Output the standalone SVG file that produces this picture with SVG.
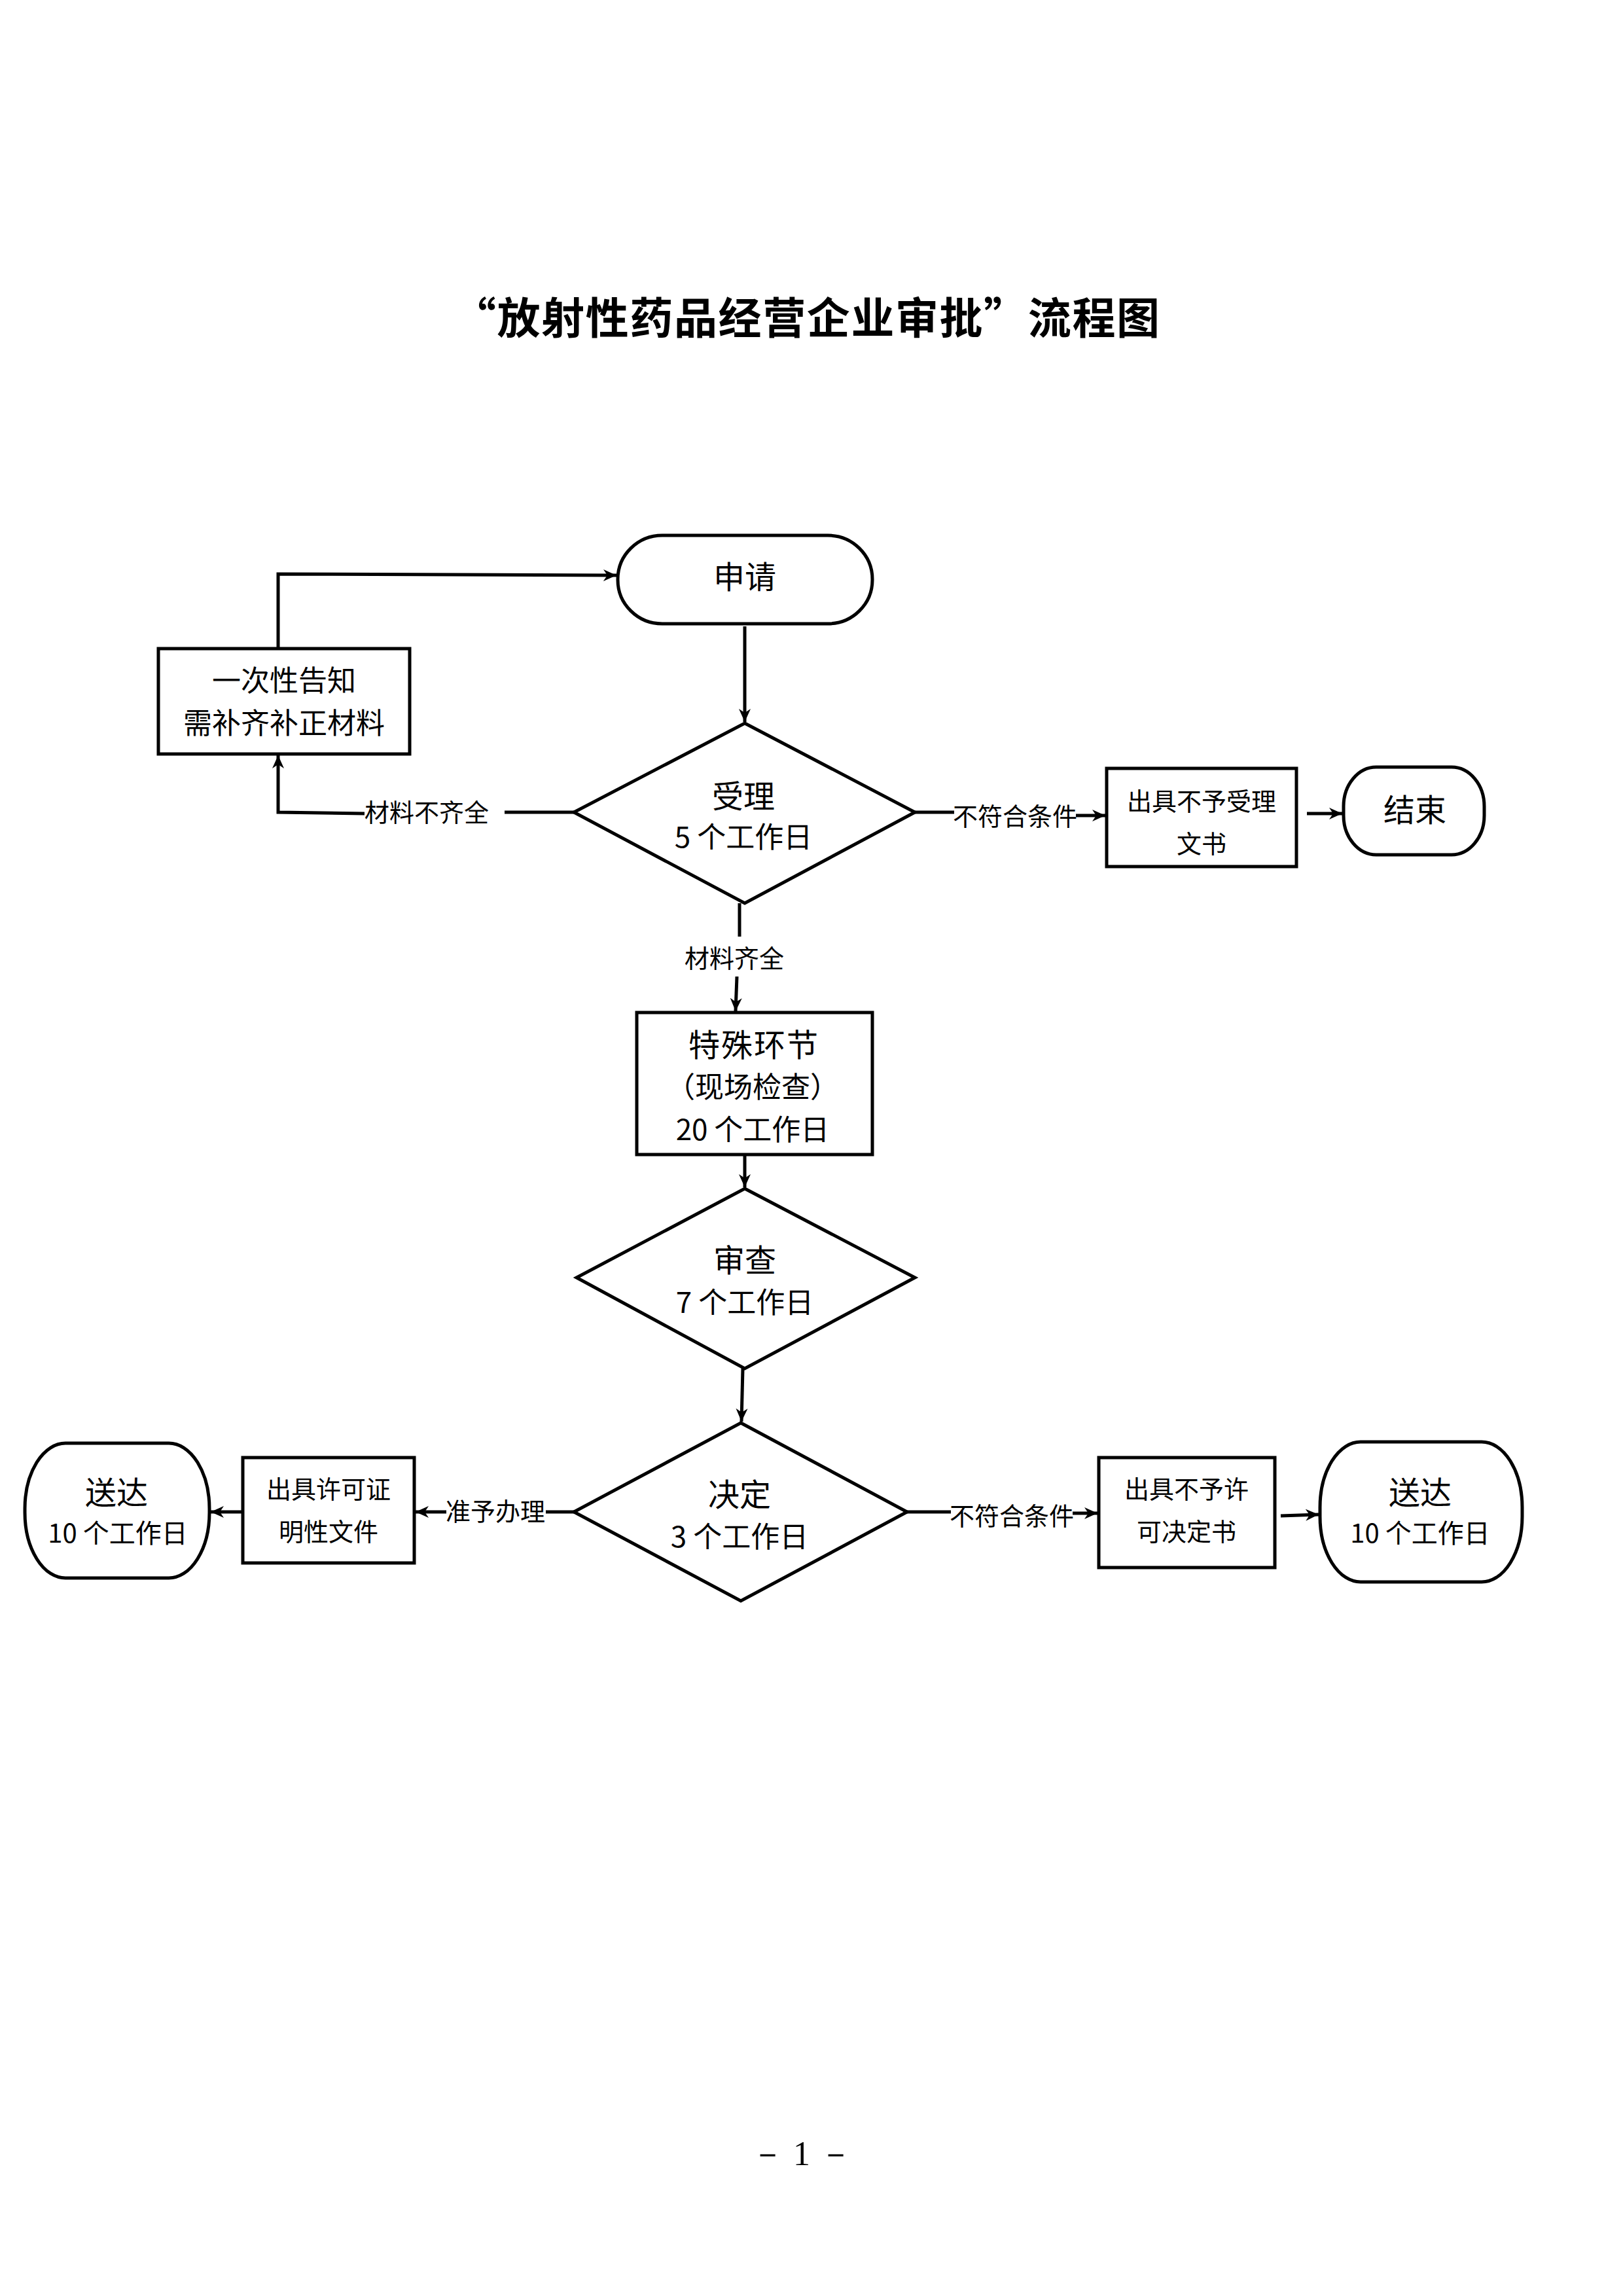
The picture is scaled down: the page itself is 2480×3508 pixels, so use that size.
<svg xmlns="http://www.w3.org/2000/svg" width="2480" height="3508" viewBox="0 0 2480 3508">
<style>
.s{fill:#fff;stroke:#000;stroke-width:5}
.c{fill:none;stroke:#000;stroke-width:5}
.t{font-family:"Noto Sans CJK SC","Noto Sans",sans-serif;fill:#000;text-anchor:middle}
.l{font-size:38px}
.m{font-size:44px}
.b{font-size:48px}
.d{font-size:40px}
</style>
<defs>
<marker id="a" markerUnits="userSpaceOnUse" markerWidth="22" markerHeight="20" refX="20" refY="10" orient="auto">
<path d="M0,1 L20,10 L0,19 L6,10 Z" fill="#000"/>
</marker>
</defs>
<rect width="2480" height="3508" fill="#fff"/>
<text class="t" x="1232" y="510" font-size="66" font-weight="bold" textLength="1080" lengthAdjust="spacing">“放射性药品经营企业审批”流程图</text>

<g id="connectors">
<line class="c" x1="1138" y1="957" x2="1138" y2="1103" marker-end="url(#a)"/>
<polyline class="c" points="877,1241 771,1241"/>
<polyline class="c" points="557,1243 425,1241 425,1154" marker-end="url(#a)"/>
<polyline class="c" points="425,991 425,877 942,879" marker-end="url(#a)"/>
<polyline class="c" points="1398,1241 1458,1241"/>
<line class="c" x1="1644" y1="1246" x2="1689" y2="1246" marker-end="url(#a)"/>
<line class="c" x1="1997" y1="1243" x2="2051" y2="1243" marker-end="url(#a)"/>
<line class="c" x1="1130" y1="1380" x2="1130" y2="1431"/>
<line class="c" x1="1126" y1="1492" x2="1124" y2="1545" marker-end="url(#a)"/>
<line class="c" x1="1138" y1="1764" x2="1138" y2="1814" marker-end="url(#a)"/>
<line class="c" x1="1135" y1="2091" x2="1133" y2="2172" marker-end="url(#a)"/>
<line class="c" x1="877" y1="2310" x2="834" y2="2310"/>
<line class="c" x1="682" y1="2310" x2="635" y2="2310" marker-end="url(#a)"/>
<line class="c" x1="371" y1="2310" x2="322" y2="2310" marker-end="url(#a)"/>
<line class="c" x1="1386" y1="2310" x2="1453" y2="2310"/>
<line class="c" x1="1639" y1="2312" x2="1677" y2="2312" marker-end="url(#a)"/>
<line class="c" x1="1957" y1="2316" x2="2015" y2="2314" marker-end="url(#a)"/>
<text class="t l" x="652" y="1255">材料不齐全</text>
<text class="t l" x="1551" y="1261">不符合条件</text>
<text class="t l" x="1122" y="1478">材料齐全</text>
<text class="t l" x="757" y="2323">准予办理</text>
<text class="t l" x="1546" y="2330">不符合条件</text>
</g>

<g id="n-apply">
<rect class="s" x="944" y="818" width="389" height="135" rx="68" ry="67"/>
<text class="t b" x="1138" y="899">申请</text>
</g>
<g id="n-notify">
<rect class="s" x="242" y="991" width="384" height="161"/>
<text class="t m" x="434" y="1056">一次性告知</text>
<text class="t m" x="434" y="1121">需补齐补正材料</text>
</g>
<g id="n-accept">
<polygon class="s" points="1138,1105 1398,1241 1138,1380 877,1241"/>
<text class="t b" x="1136" y="1234">受理</text>
<text class="t m" x="1136" y="1295">5 个工作日</text>
</g>
<g id="n-reject1">
<rect class="s" x="1691" y="1174" width="290" height="150"/>
<text class="t l" x="1836" y="1238">出具不予受理</text>
<text class="t l" x="1836" y="1303">文书</text>
</g>
<g id="n-end">
<rect class="s" x="2053" y="1172" width="215" height="134" rx="50" ry="60"/>
<text class="t b" x="2162" y="1255">结束</text>
</g>
<g id="n-special">
<rect class="s" x="973" y="1547" width="360" height="217"/>
<text class="t b" x="1152" y="1614" letter-spacing="2">特殊环节</text>
<text class="t m" x="1150" y="1677">（现场检查）</text>
<text class="t m" x="1150" y="1742">20 个工作日</text>
</g>
<g id="n-review">
<polygon class="s" points="1138,1816 1398,1952 1138,2091 881,1952"/>
<text class="t b" x="1138" y="1943">审查</text>
<text class="t m" x="1138" y="2006">7 个工作日</text>
</g>
<g id="n-decide">
<polygon class="s" points="1132,2174 1386,2310 1132,2446 877,2310"/>
<text class="t b" x="1130" y="2301">决定</text>
<text class="t m" x="1130" y="2364">3 个工作日</text>
</g>
<g id="n-permit">
<rect class="s" x="371" y="2227" width="262" height="161"/>
<text class="t l" x="502" y="2289">出具许可证</text>
<text class="t l" x="502" y="2354">明性文件</text>
</g>
<g id="n-deliver1">
<rect class="s" x="38" y="2205" width="282" height="206" rx="62" ry="100"/>
<text class="t b" x="178" y="2298">送达</text>
<text class="t d" x="180" y="2357">10 个工作日</text>
</g>
<g id="n-reject2">
<rect class="s" x="1679" y="2227" width="269" height="168"/>
<text class="t l" x="1813" y="2289">出具不予许</text>
<text class="t l" x="1813" y="2354">可决定书</text>
</g>
<g id="n-deliver2">
<rect class="s" x="2017" y="2203" width="309" height="214" rx="62" ry="100"/>
<text class="t b" x="2170" y="2298">送达</text>
<text class="t d" x="2170" y="2357">10 个工作日</text>
</g>
<text x="1225" y="3308" font-family="'Liberation Serif',serif" font-size="52" text-anchor="middle">－ 1 －</text>
</svg>
